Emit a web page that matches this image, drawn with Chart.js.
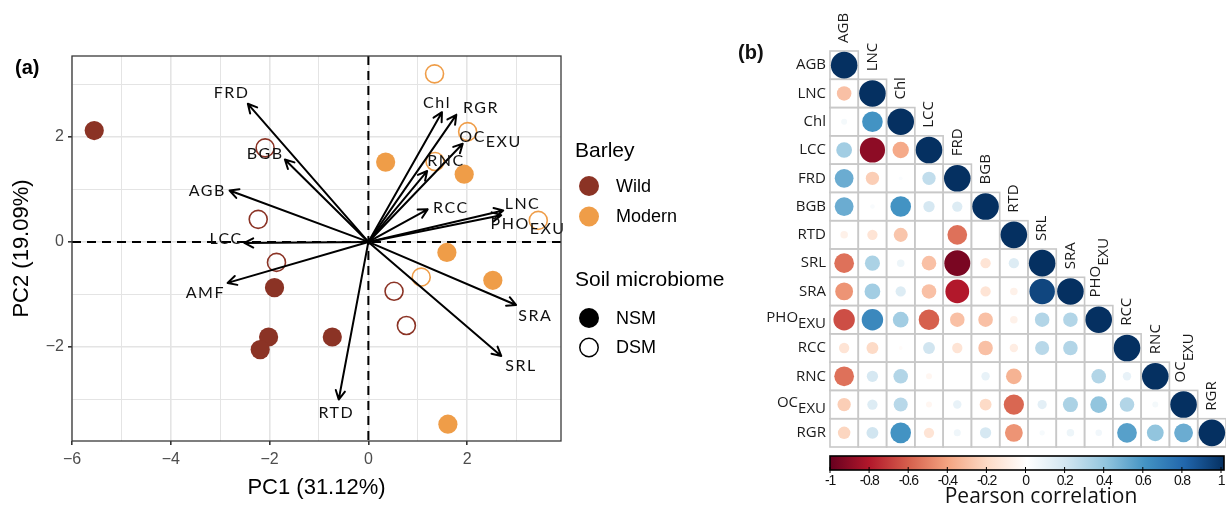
<!DOCTYPE html>
<html lang="en">
<head>
<meta charset="UTF-8" />
<title>Barley PCA and trait correlations</title>
<script src="https://cdn.jsdelivr.net/npm/chart.js@4.4.1/dist/chart.umd.min.js"></script>
<style>
  body { margin: 0; background: #fff; }
  #wrap { position: relative; width: 1226px; height: 510px; }
  #pca { position: absolute; left: 0; top: 0; }
  #corr { position: absolute; left: 730px; top: 0; }
</style>
</head>
<body>
<div id="wrap">
  <canvas id="pca" width="760" height="510"></canvas>
  <canvas id="corr" width="496" height="510"></canvas>
</div>
<script>
// ---------- (a) PCA scores, one pair of arrays per group
var wildNsmX = [-5.55, -1.90, -2.02, -2.19, -0.73];
var wildNsmY = [2.12, -0.87, -1.81, -2.05, -1.81];
var wildDsmX = [-2.09, -2.23, -1.86, 0.52, 0.77];
var wildDsmY = [1.79, 0.43, -0.39, -0.94, -1.59];
var modernNsmX = [0.35, 1.94, 1.59, 2.52, 1.61];
var modernNsmY = [1.52, 1.29, -0.20, -0.73, -3.47];
var modernDsmX = [1.34, 2.01, 1.35, 3.44, 1.07];
var modernDsmY = [3.20, 2.10, 1.53, 0.41, -0.67];

// trait loadings (arrow tips) and label anchors, in PC units
var traits   = ["FRD", "BGB", "AGB", "LCC", "AMF", "RTD", "SRA", "SRL", "Chl", "RGR", "OC", "RNC", "RCC", "LNC", "PHO"];
var traitSub = ["", "", "", "", "", "", "", "", "", "", "EXU", "", "", "", "EXU"];
var loadX  = [-2.44, -1.69, -2.81, -2.51, -2.85, -0.60, 2.99, 2.69, 1.49, 1.78, 1.91, 1.19, 1.20, 2.73, 2.69];
var loadY  = [2.63, 1.57, 0.98, -0.02, -0.78, -3.00, -1.20, -2.17, 2.47, 2.42, 1.87, 1.35, 0.62, 0.60, 0.51];
var labelX = [-2.77, -2.09, -3.26, -2.88, -3.30, -0.65, 3.38, 3.09, 1.39, 2.28, 2.11, 1.57, 1.67, 3.12, 2.87];
var labelY = [2.83, 1.67, 0.98, 0.06, -0.96, -3.26, -1.41, -2.36, 2.64, 2.55, 2.00, 1.54, 0.65, 0.72, 0.34];

var xTicks = [-6, -5, -4, -3, -2, -1, 0, 1, 2, 3];
var yTicks = [-3, -2, -1, 0, 1, 2, 3];

// ---------- (b) Pearson correlations, lower triangle by row
var corrVars = ["AGB", "LNC", "Chl", "LCC", "FRD", "BGB", "RTD", "SRL", "SRA", "PHO", "RCC", "RNC", "OC", "RGR"];
var corrSub  = ["", "", "", "", "", "", "", "", "", "EXU", "", "", "EXU", ""];
var corrRows = [
  [1],
  [-0.30, 1],
  [0.05, 0.60, 1],
  [0.35, -0.90, -0.38, 1],
  [0.50, -0.25, 0.02, 0.25, 1],
  [0.50, 0.03, 0.60, 0.18, 0.15, 1],
  [-0.08, -0.15, -0.28, 0.00, -0.55, 0.00, 1],
  [-0.55, 0.32, 0.08, -0.30, -0.95, -0.15, 0.15, 1],
  [-0.45, 0.35, 0.15, -0.30, -0.80, -0.15, -0.08, 0.92, 1],
  [-0.65, 0.65, 0.35, -0.60, -0.30, -0.30, -0.08, 0.30, 0.30, 1],
  [-0.15, -0.20, -0.02, 0.20, -0.15, -0.30, -0.10, 0.28, 0.30, 0.00, 1],
  [-0.55, 0.18, 0.30, -0.05, 0.00, 0.10, -0.35, 0.00, 0.00, 0.30, 0.10, 1],
  [-0.25, 0.15, 0.28, -0.05, 0.10, -0.20, -0.58, 0.12, 0.32, 0.40, 0.30, 0.05, 1],
  [-0.22, 0.20, 0.60, -0.15, 0.07, 0.18, -0.45, 0.04, 0.08, 0.06, 0.55, 0.40, 0.50, 1]
];
var barTicks = [-1, -0.8, -0.6, -0.4, -0.2, 0, 0.2, 0.4, 0.6, 0.8, 1];

var WILD = "#8b3325";
var MODERN = "#ef9d48";
var RDBU = ["#67001f", "#b2182b", "#d6604d", "#f4a582", "#fddbc7", "#ffffff",
            "#d1e5f0", "#92c5de", "#4393c3", "#2166ac", "#053061"];

function pts(xs, ys) {
  return xs.map(function (x, i) { return { x: x, y: ys[i] }; });
}
function minus(v) { return String(v).replace("-", "\u2212"); }

function corrColor(v) {
  var t = (v + 1) / 2 * (RDBU.length - 1);
  var i = Math.min(Math.floor(t), RDBU.length - 2), f = t - i;
  var a = RDBU[i], b = RDBU[i + 1];
  var c = [1, 3, 5].map(function (k) {
    var p = parseInt(a.substr(k, 2), 16), q = parseInt(b.substr(k, 2), 16);
    return Math.round(p + (q - p) * f);
  });
  return "rgb(" + c.join(",") + ")";
}

function arrow(ctx, x0, y0, x1, y1) {
  var ang = Math.atan2(y1 - y0, x1 - x0), h = 10, sp = Math.PI / 6.5;
  ctx.beginPath();
  ctx.moveTo(x0, y0);
  ctx.lineTo(x1, y1);
  ctx.moveTo(x1 - h * Math.cos(ang - sp), y1 - h * Math.sin(ang - sp));
  ctx.lineTo(x1, y1);
  ctx.lineTo(x1 - h * Math.cos(ang + sp), y1 - h * Math.sin(ang + sp));
  ctx.stroke();
}

// ---------- panel (a)
var pcaDecor = {
  id: "pcaDecor",
  beforeDatasetsDraw: function (chart) {
    var ctx = chart.ctx, a = chart.chartArea;
    var x0 = chart.scales.x.getPixelForValue(0), y0 = chart.scales.y.getPixelForValue(0);
    ctx.save();
    ctx.strokeStyle = "#000";
    ctx.lineWidth = 2;
    ctx.setLineDash([9, 6]);
    ctx.beginPath();
    ctx.moveTo(x0, a.top); ctx.lineTo(x0, a.bottom);
    ctx.moveTo(a.left, y0); ctx.lineTo(a.right, y0);
    ctx.stroke();
    ctx.restore();
  },
  afterDatasetsDraw: function (chart) {
    var ctx = chart.ctx, xs = chart.scales.x, ys = chart.scales.y;
    var ox = xs.getPixelForValue(0), oy = ys.getPixelForValue(0);
    ctx.save();
    ctx.strokeStyle = "#000";
    ctx.lineWidth = 2;
    ctx.lineCap = "round";
    ctx.lineJoin = "round";
    traits.forEach(function (t, i) {
      arrow(ctx, ox, oy, xs.getPixelForValue(loadX[i]), ys.getPixelForValue(loadY[i]));
    });
    ctx.fillStyle = "#111";
    ctx.font = "16px Lato";
    ctx.letterSpacing = "1.5px";
    ctx.textBaseline = "middle";
    ctx.textAlign = "left";
    traits.forEach(function (t, i) {
      var x = xs.getPixelForValue(labelX[i]), y = ys.getPixelForValue(labelY[i]);
      var w = ctx.measureText(t).width;
      ctx.fillText(t, x - w / 2, y);
      if (traitSub[i]) ctx.fillText(traitSub[i], x + w / 2, y + 5);
    });
    ctx.restore();
  },
  afterDraw: function (chart) {
    var ctx = chart.ctx, a = chart.chartArea;
    ctx.save();
    ctx.strokeStyle = "#3a3a3a";
    ctx.lineWidth = 1.3;
    ctx.strokeRect(a.left, a.top, a.right - a.left, a.bottom - a.top);

    ctx.fillStyle = "#000";
    ctx.textBaseline = "middle";
    ctx.font = "bold 20px 'Liberation Sans'";
    ctx.fillText("(a)", 15, 68);

    // legend
    ctx.font = "21px 'Liberation Sans'";
    ctx.fillText("Barley", 575, 151);
    ctx.fillText("Soil microbiome", 575, 280);
    ctx.font = "18px 'Liberation Sans'";
    var rows = [
      { y: 186, fill: WILD, stroke: null, text: "Wild" },
      { y: 216.5, fill: MODERN, stroke: null, text: "Modern" },
      { y: 318, fill: "#000", stroke: null, text: "NSM" },
      { y: 347.5, fill: null, stroke: "#000", text: "DSM" }
    ];
    rows.forEach(function (r) {
      ctx.beginPath();
      if (r.fill) {
        ctx.arc(589, r.y, 10, 0, Math.PI * 2);
        ctx.fillStyle = r.fill;
        ctx.fill();
      } else {
        ctx.arc(589, r.y, 9.2, 0, Math.PI * 2);
        ctx.strokeStyle = r.stroke;
        ctx.lineWidth = 1.5;
        ctx.stroke();
      }
      ctx.fillStyle = "#000";
      ctx.fillText(r.text, 616, r.y + 1);
    });
    ctx.restore();
  }
};

var filled = { pointRadius: 9.6, pointBorderWidth: 0 };
var open = { pointRadius: 9, pointBorderWidth: 1.6, pointBackgroundColor: "rgba(0,0,0,0)" };

new Chart(document.getElementById("pca"), {
  type: "scatter",
  data: {
    datasets: [
      Object.assign({ label: "Wild NSM", data: pts(wildNsmX, wildNsmY), pointBackgroundColor: WILD }, filled),
      Object.assign({ label: "Wild DSM", data: pts(wildDsmX, wildDsmY), pointBorderColor: WILD }, open),
      Object.assign({ label: "Modern NSM", data: pts(modernNsmX, modernNsmY), pointBackgroundColor: MODERN }, filled),
      Object.assign({ label: "Modern DSM", data: pts(modernDsmX, modernDsmY), pointBorderColor: MODERN }, open)
    ]
  },
  options: {
    responsive: false,
    animation: false,
    events: [],
    layout: { padding: { left: 0, top: 56, right: 199, bottom: 0 } },
    plugins: { legend: { display: false }, tooltip: { enabled: false } },
    scales: {
      x: {
        type: "linear", min: -6, max: 3.9,
        afterBuildTicks: function (s) { s.ticks = xTicks.map(function (v) { return { value: v }; }); },
        afterFit: function (s) { s.height = 69; },
        border: { display: false },
        grid: {
          color: "#e4e4e4",
          lineWidth: function (c) { return c.tick && c.tick.value % 2 ? 1 : 1.6; },
          tickLength: 4,
          tickColor: function (c) { return c.tick && c.tick.value % 2 ? "rgba(0,0,0,0)" : "#333"; }
        },
        ticks: {
          color: "#4d4d4d", padding: 5, maxRotation: 0, autoSkip: false,
          font: { family: "'Liberation Sans'", size: 16 },
          callback: function (v) { return v % 2 ? "" : minus(v); }
        },
        title: {
          display: true, text: "PC1 (31.12%)", color: "#000",
          font: { family: "'Liberation Sans'", size: 22 },
          padding: { top: 0, bottom: 9 }
        }
      },
      y: {
        type: "linear", min: -3.79, max: 3.54,
        afterBuildTicks: function (s) { s.ticks = yTicks.map(function (v) { return { value: v }; }); },
        afterFit: function (s) { s.width = 72; },
        border: { display: false },
        grid: {
          color: "#e4e4e4",
          lineWidth: function (c) { return c.tick && c.tick.value % 2 ? 1 : 1.6; },
          tickLength: 4,
          tickColor: function (c) { return c.tick && c.tick.value % 2 ? "rgba(0,0,0,0)" : "#333"; }
        },
        ticks: {
          color: "#4d4d4d", padding: 4, autoSkip: false,
          font: { family: "'Liberation Sans'", size: 16 },
          callback: function (v) { return v % 2 ? "" : minus(v); }
        },
        title: {
          display: true, text: "PC2 (19.09%)", color: "#000",
          font: { family: "'Liberation Sans'", size: 22 },
          padding: { top: 9, bottom: 0 }
        }
      }
    }
  },
  plugins: [pcaDecor]
});

// ---------- panel (b)
var cells = [];
corrRows.forEach(function (row, i) {
  row.forEach(function (v, j) { cells.push({ x: j, y: i, v: v }); });
});

function cellSize(chart) {
  var xs = chart.scales.x;
  return xs.getPixelForValue(1) - xs.getPixelForValue(0);
}

var corrDecor = {
  id: "corrDecor",
  beforeDatasetsDraw: function (chart) {
    var ctx = chart.ctx, xs = chart.scales.x, ys = chart.scales.y, s = cellSize(chart);
    ctx.save();
    ctx.strokeStyle = "#c8c8c8";
    ctx.lineWidth = 1.6;
    corrRows.forEach(function (row, i) {
      row.forEach(function (v, j) {
        ctx.strokeRect(xs.getPixelForValue(j) - s / 2, ys.getPixelForValue(i) - s / 2, s, s);
      });
    });

    ctx.fillStyle = "#1a1a1a";
    ctx.font = "15px 'Open Sans'";
    ctx.textBaseline = "middle";
    ctx.textAlign = "left";
    corrVars.forEach(function (name, i) {
      var sub = corrSub[i];
      var wm = ctx.measureText(name).width, ws = sub ? ctx.measureText(sub).width : 0;
      var right = xs.getPixelForValue(0) - s / 2 - 4;
      var y = ys.getPixelForValue(i);
      if (sub) {
        ctx.fillText(name, right - wm - ws, y - 2);
        ctx.fillText(sub, right - ws, y + 4);
      } else {
        ctx.fillText(name, right - wm, y);
      }
      // column label, rotated, just above the diagonal cell
      ctx.save();
      ctx.translate(xs.getPixelForValue(i), ys.getPixelForValue(i) - s / 2 - 8);
      ctx.rotate(-Math.PI / 2);
      if (sub) {
        ctx.fillText(name, 0, -3);
        ctx.fillText(sub, wm, 5);
      } else {
        ctx.fillText(name, 0, 0);
      }
      ctx.restore();
    });
    ctx.restore();
  },
  afterDraw: function (chart) {
    var ctx = chart.ctx, a = chart.chartArea;
    var left = a.left, right = a.right - 2, top = 456, h = 14;
    ctx.save();
    var g = ctx.createLinearGradient(left, 0, right, 0);
    RDBU.forEach(function (c, k) { g.addColorStop(k / (RDBU.length - 1), c); });
    ctx.fillStyle = g;
    ctx.fillRect(left, top, right - left, h);
    ctx.strokeStyle = "#000";
    ctx.lineWidth = 1.6;
    ctx.strokeRect(left, top, right - left, h);

    ctx.fillStyle = "#111";
    ctx.font = "14px 'Liberation Sans'";
    ctx.letterSpacing = "-1.3px";
    ctx.textAlign = "center";
    ctx.textBaseline = "middle";
    ctx.lineWidth = 1;
    barTicks.forEach(function (v) {
      var x = left + (v + 1) / 2 * (right - 3 - left);
      ctx.beginPath();
      ctx.moveTo(x, top + h - 3);
      ctx.lineTo(x, top + h + 3);
      ctx.stroke();
      ctx.fillText(String(v), x, 481);
    });
    ctx.letterSpacing = "0px";
    ctx.font = "21px 'Open Sans'";
    ctx.fillText("Pearson correlation", 1041 - 730, 497);

    ctx.textAlign = "left";
    ctx.font = "bold 20px 'Liberation Sans'";
    ctx.fillText("(b)", 8, 53);
    ctx.restore();
  }
};

new Chart(document.getElementById("corr"), {
  type: "scatter",
  data: {
    datasets: [{
      label: "r",
      data: cells,
      clip: false,
      pointBorderWidth: 0,
      pointRadius: function (c) {
        if (!c.raw) return 0;
        return 0.47 * cellSize(c.chart) * Math.sqrt(Math.abs(c.raw.v));
      },
      pointBackgroundColor: function (c) { return c.raw ? corrColor(c.raw.v) : "#fff"; }
    }]
  },
  options: {
    responsive: false,
    animation: false,
    events: [],
    layout: { padding: { left: 100, top: 51, right: 0, bottom: 63 } },
    plugins: { legend: { display: false }, tooltip: { enabled: false } },
    scales: {
      x: { type: "linear", min: -0.5, max: 13.5, display: false },
      y: { type: "linear", min: -0.5, max: 13.5, reverse: true, display: false }
    }
  },
  plugins: [corrDecor]
});
</script>
</body>
</html>
